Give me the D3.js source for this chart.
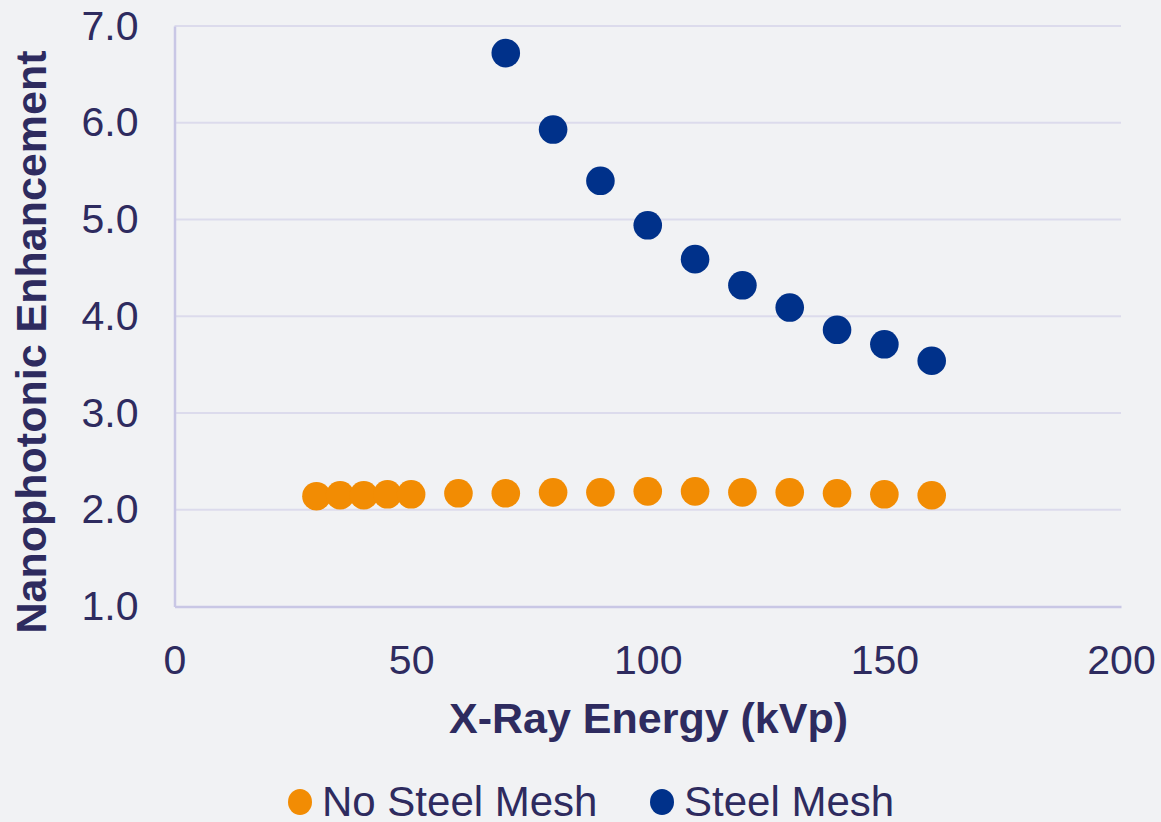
<!DOCTYPE html>
<html>
<head>
<meta charset="utf-8">
<script src="https://cdn.jsdelivr.net/npm/d3@7"></script>
<style>
  html, body { margin: 0; padding: 0; background: #F1F2F4; }
  svg { display: block; font-family: "Liberation Sans", Arial, sans-serif; }
</style>
</head>
<body>
<svg id="chart" width="1161" height="822"></svg>
<script>
// X-ray tube voltage (kVp) for each measurement
const energyNoMesh = [30, 35, 40, 45, 50, 60, 70, 80, 90, 100, 110, 120, 130, 140, 150, 160];
const enhNoMesh    = [2.14, 2.15, 2.15, 2.16, 2.16, 2.17, 2.17, 2.18, 2.18, 2.19, 2.19, 2.18, 2.18, 2.17, 2.16, 2.15];

const energyMesh = [70, 80, 90, 100, 110, 120, 130, 140, 150, 160];
const enhMesh    = [6.72, 5.93, 5.40, 4.94, 4.59, 4.32, 4.09, 3.86, 3.71, 3.54];

const xTicks = [0, 50, 100, 150, 200];
const yTicks = [1, 2, 3, 4, 5, 6, 7];

const seriesNames = ["No Steel Mesh", "Steel Mesh"];
const seriesColors = ["#F28C03", "#00318A"];

const textColor = "#2E2B5F";
const gridColor = "#DCDBEC";
const axisColor = "#C9C7E5";

const svg = d3.select("#chart");

const plot = { left: 174.5, right: 1121, top: 26, bottom: 606.5 };

const x = d3.scaleLinear().domain([0, 200]).range([plot.left, plot.right]);
const y = d3.scaleLinear().domain([1, 7]).range([plot.bottom, plot.top]);

// horizontal gridlines
svg.append("g")
  .selectAll("line")
  .data(yTicks.filter(d => d > 1))
  .join("line")
  .attr("x1", plot.left).attr("x2", plot.right)
  .attr("y1", d => y(d)).attr("y2", d => y(d))
  .attr("stroke", gridColor).attr("stroke-width", 2);

// y axis labels
const yAxis = d3.axisLeft(y).tickValues(yTicks).tickFormat(d3.format(".1f")).tickSize(0).tickPadding(36);
const gy = svg.append("g").attr("transform", `translate(${plot.left},0)`).call(yAxis);
gy.select(".domain").attr("stroke", axisColor).attr("stroke-width", 2.5);
gy.selectAll("text").attr("fill", textColor).attr("font-size", 41).attr("font-family", "Liberation Sans, Arial, sans-serif");

// x axis labels
const xAxis = d3.axisBottom(x).tickValues(xTicks).tickFormat(d3.format("d")).tickSize(0).tickPadding(38);
const gx = svg.append("g").attr("transform", `translate(0,${plot.bottom})`).call(xAxis);
gx.select(".domain").attr("stroke", axisColor).attr("stroke-width", 2.5);
gx.selectAll("text").attr("fill", textColor).attr("font-size", 41).attr("font-family", "Liberation Sans, Arial, sans-serif");

// axis titles
svg.append("text")
  .attr("x", 648.5)
  .attr("y", 733)
  .attr("text-anchor", "middle")
  .attr("font-size", 43).attr("font-weight", "bold")
  .attr("fill", textColor)
  .text("X-Ray Energy (kVp)");

svg.append("text")
  .attr("transform", `translate(46,${342}) rotate(-90)`)
  .attr("text-anchor", "middle")
  .attr("font-size", 43).attr("font-weight", "bold")
  .attr("fill", textColor)
  .text("Nanophotonic Enhancement");

// markers
const r = 14.3;
const noMesh = energyNoMesh.map((e, i) => ({ e, v: enhNoMesh[i] }));
const mesh = energyMesh.map((e, i) => ({ e, v: enhMesh[i] }));

svg.append("g").selectAll("circle").data(noMesh).join("circle")
  .attr("cx", d => x(d.e)).attr("cy", d => y(d.v)).attr("r", r)
  .attr("fill", seriesColors[0]);

svg.append("g").selectAll("circle").data(mesh).join("circle")
  .attr("cx", d => x(d.e)).attr("cy", d => y(d.v)).attr("r", r)
  .attr("fill", seriesColors[1]);

// legend
const legendX = [300, 662];
const legend = svg.append("g");
seriesNames.forEach((name, i) => {
  legend.append("ellipse")
    .attr("cx", legendX[i]).attr("cy", 802).attr("rx", 12).attr("ry", 13)
    .attr("fill", seriesColors[i]);
  legend.append("text")
    .attr("x", legendX[i] + 22).attr("y", 816)
    .attr("font-size", 42).attr("fill", textColor)
    .text(name);
});
</script>
</body>
</html>
